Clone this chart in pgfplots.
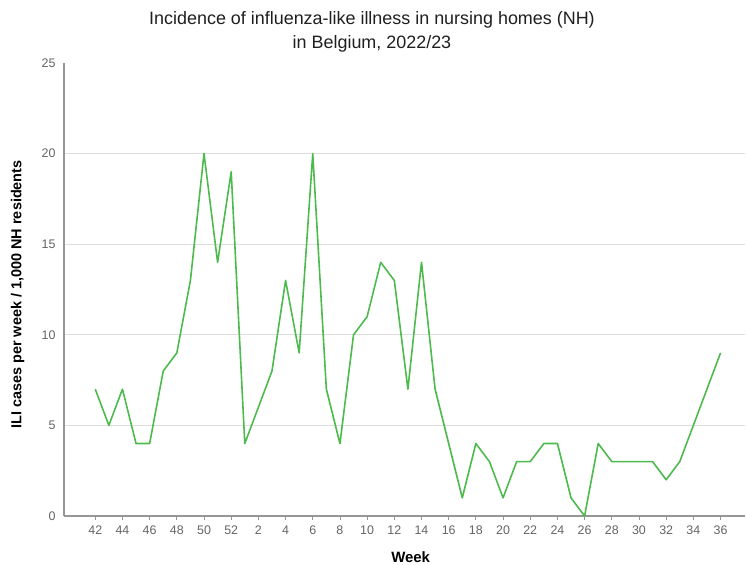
\documentclass[border=0pt]{standalone}
\usepackage{pgfplots}
\pgfplotsset{compat=1.18}
\usepackage{fontspec}
\setmainfont{Liberation Sans}
\definecolor{lgreen}{RGB}{77,186,77}
\definecolor{gridc}{RGB}{222,222,222}
\definecolor{axc}{RGB}{150,150,150}
\definecolor{tickc}{RGB}{100,100,100}
\begin{document}
\begin{tikzpicture}[x=1bp,y=1bp]
\useasboundingbox (0,0) rectangle (747,565);
\node[font=\fontsize{18}{24}\selectfont, align=center, text=black!88] at (372,533) {Incidence of influenza-like illness in nursing homes (NH)\\in Belgium, 2022/23};
\begin{axis}[
  at={(64bp,49bp)}, anchor=south west,
  scale only axis, width=681bp, height=453bp,
  xmin=-2.3, xmax=47.8, ymin=0, ymax=25,
  axis x line*=bottom, axis y line*=left,
  axis line style={axc, line width=1.2bp, -},
  xtick={0,2,...,46},
  xticklabels={42,44,46,48,50,52,2,4,6,8,10,12,14,16,18,20,22,24,26,28,30,32,34,36},
  ytick={0,5,10,15,20},
  extra y ticks={25},
  extra y tick style={grid=none},
  major tick length=4bp,
  xtick style={axc, line width=0.8bp},
  ytick style={draw=none},
  tick align=outside,
  ymajorgrids, grid style={gridc, line width=0.8bp},
  tick label style={font=\fontsize{12.5}{14}\selectfont, text=tickc},
  /pgf/number format/assume math mode=true,
  xticklabel style={yshift=-2bp},
  yticklabel style={xshift=-1bp},
  xlabel={\bfseries Week}, xlabel style={font=\fontsize{15}{17}\selectfont, at={(axis description cs:0.509,0)}, anchor=north, yshift=-32bp},
  ylabel={\bfseries ILI cases per week / 1,000 NH residents}, ylabel style={font=\fontsize{14.5}{16}\selectfont, at={(axis description cs:0,0.489)}, anchor=south, yshift=36bp},
  clip=false,
]
\addplot[lgreen, line width=1.6bp, line join=round] coordinates {
(0,7)(1,5)(2,7)(3,4)(4,4)(5,8)(6,9)(7,13)(8,20)(9,14)(10,19)
(11,4)(12,6)(13,8)(14,13)(15,9)(16,20)(17,7)(18,4)(19,10)(20,11)
(21,14)(22,13)(23,7)(24,14)(25,7)(26,4)(27,1)(28,4)(29,3)(30,1)
(31,3)(32,3)(33,4)(34,4)(35,1)(36,0)(37,4)(38,3)(39,3)(40,3)
(41,3)(42,2)(43,3)(44,5)(45,7)(46,9)
};
\end{axis}
\end{tikzpicture}
\end{document}
